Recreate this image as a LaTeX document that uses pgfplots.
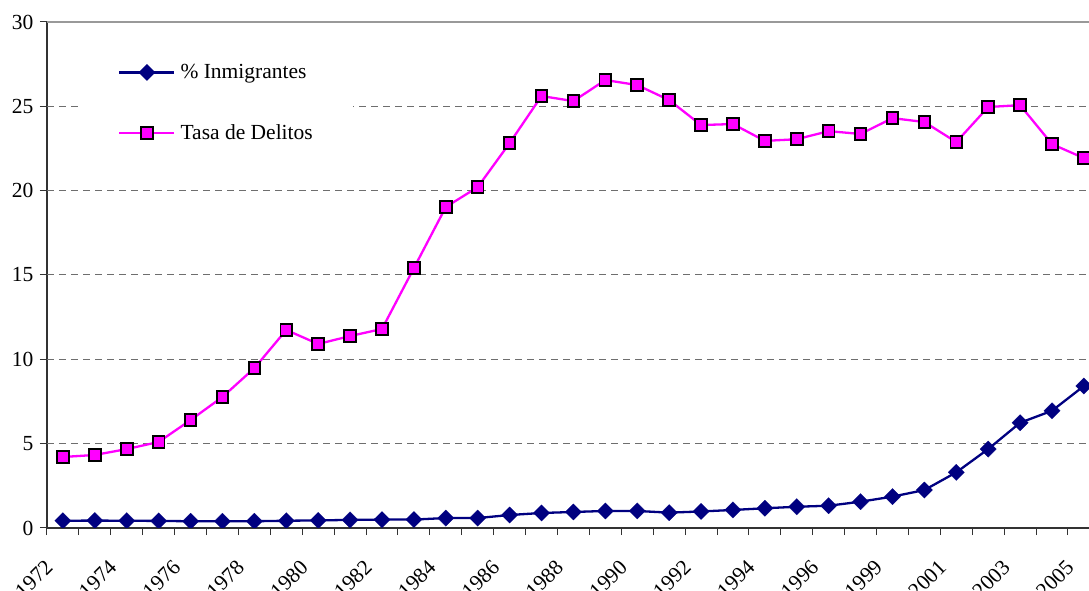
\documentclass[border=0pt]{standalone}
\usepackage{fontspec}
\setmainfont{Liberation Serif}
\usepackage{pgfplots}
\pgfplotsset{compat=1.18}
\usepackage{pgfplotstable}

\definecolor{navyline}{RGB}{0,0,128}
\definecolor{delitos}{RGB}{255,0,255}
\definecolor{gridgray}{RGB}{110,110,110}

% idx: slot on the time axis (one slot per year with data)
\pgfplotstableread{
idx inmig delitos
0  0.43  4.21
1  0.44  4.33
2  0.43  4.68
3  0.42  5.10
4  0.40  6.40
5  0.40  7.77
6  0.40  9.48
7  0.43 11.74
8  0.45 10.91
9  0.48 11.38
10 0.50 11.80
11 0.50 15.41
12 0.59 19.03
13 0.59 20.21
14 0.77 22.82
15 0.89 25.61
16 0.95 25.31
17 1.01 26.56
18 1.01 26.26
19 0.91 25.37
20 0.98 23.89
21 1.07 23.95
22 1.17 22.95
23 1.26 23.05
24 1.32 23.53
25 1.56 23.36
26 1.86 24.30
27 2.25 24.07
28 3.30 22.88
29 4.68 24.96
30 6.24 25.07
31 6.95 22.76
32 8.42 21.93
}\datos

\begin{document}
\begin{tikzpicture}[font=\fontsize{21.5}{25}\selectfont]
\begin{axis}[
  scale only axis, width=1042pt, height=506pt,
  xmin=-0.5, xmax=32.16, ymin=0, ymax=30,
  axis x line*=bottom, axis y line*=left,
  axis line style={-, draw=black!80, line width=1.3pt},
  tick align=outside, major tick length=7pt, minor tick length=7pt,
  ytick={0,5,...,30},
  ytick style={draw=black!80, line width=1pt},
  y tick label style={xshift=-3pt},
  xtick={0,2,...,32},
  xticklabels={1972,1974,1976,1978,1980,1982,1984,1986,1988,1990,1992,1994,1996,1999,2001,2003,2005},
  minor xtick={-0.5,0.5,...,31.5},
  xtick style={draw=none},
  minor x tick style={draw=black!80, line width=1pt},
  x tick label style={xshift=-19pt, yshift=-22pt, rotate=45, anchor=north east, inner sep=1pt},
  /pgf/number format/assume math mode=true,
  extra y ticks={5,10,15,20,25},
  extra y tick labels={},
  extra y tick style={grid=major, major grid style={draw=gridgray, line width=1pt, dash pattern=on 7pt off 5pt}},
  clip marker paths=true,
  legend cell align=left,
  legend image code/.code={%
    \draw[#1, mark=none] (0pt,0pt) -- (55pt,0pt);
    \draw[#1, only marks] plot coordinates {(27.5pt,0pt)};},
  legend style={at={(rel axis cs:0.0346,0.9407)}, anchor=north west, draw=none, fill=white,
    inner xsep=35pt, inner ysep=12pt, row sep=44pt,
    nodes={inner xsep=5pt, inner ysep=0pt}},
]
\draw[gray!80, line width=1.6pt] (rel axis cs:0,1) -- (rel axis cs:1,1);
\addplot[navyline, line width=2.3pt, mark=square*, mark size=5.8pt,
  mark options={rotate=45, fill=navyline, draw=navyline, line width=0.1pt}]
  table[x=idx, y=inmig] {\datos};
\addlegendentry{\% Inmigrantes}
\addplot[delitos, line width=2.3pt, mark=square*, mark size=5.8pt,
  mark options={fill=delitos, draw=black, line width=1.9pt}]
  table[x=idx, y=delitos] {\datos};
\addlegendentry{Tasa de Delitos}
\end{axis}
\pgfresetboundingbox
\useasboundingbox (-47pt,-63pt) rectangle (1042pt,528pt);
\end{tikzpicture}
\end{document}
